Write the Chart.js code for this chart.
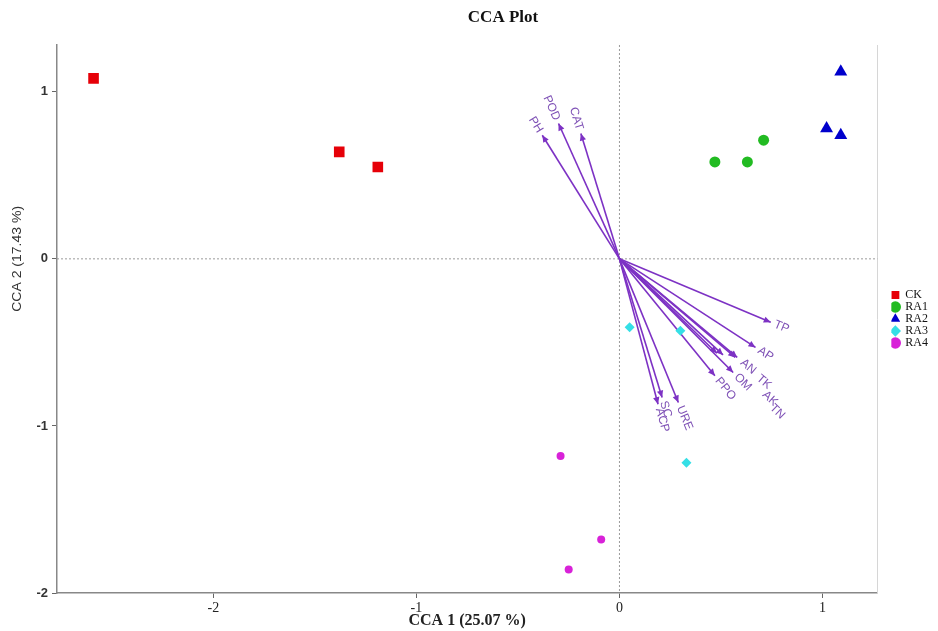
<!DOCTYPE html>
<html>
<head>
<meta charset="utf-8">
<script src="https://cdn.jsdelivr.net/npm/chart.js@4/dist/chart.umd.min.js"></script>
<style>
  body { margin: 0; background: #fff; }
  #wrap { width: 938px; height: 631px; }
</style>
</head>
<body>
<div id="wrap"><canvas id="ccaChart" width="938" height="631"></canvas></div>
<script>
// grupos de amostras (sites) e seus escores
const groups = ['CK', 'RA1', 'RA2', 'RA3', 'RA4'];
const ckX = [-2.59, -1.38, -1.19];
const ckY = [1.08, 0.64, 0.55];
const ra1X = [0.47, 0.63, 0.71];
const ra1Y = [0.58, 0.58, 0.71];
const ra2X = [1.09, 1.02, 1.09];
const ra2Y = [1.12, 0.78, 0.74];
const ra3X = [0.05, 0.30, 0.33];
const ra3Y = [-0.41, -0.43, -1.22];
const ra4X = [-0.29, -0.09, -0.25];
const ra4Y = [-1.18, -1.68, -1.86];

// variáveis ambientais (setas)
const envNames = ['PH', 'POD', 'CAT', 'TP', 'AP', 'AN', 'TK', 'AK', 'TN', 'OM', 'PPO', 'SC', 'ACP', 'URE'];
const envX = [-0.38, -0.30, -0.19, 0.745, 0.67, 0.58, 0.57, 0.51, 0.48, 0.56, 0.47, 0.21, 0.19, 0.29];
const envY = [0.74, 0.81, 0.75, -0.38, -0.53, -0.59, -0.59, -0.575, -0.565, -0.68, -0.70, -0.83, -0.87, -0.86];

// rótulos dos eixos
const xTicks = [-2, -1, 0, 1];
const yTicks = [-2, -1, 0, 1];

const PURPLE = '#7d32c4';
const SERIF = '"Liberation Serif", "Times New Roman", serif';

function pts(xs, ys) {
    return xs.map((x, i) => ({ x: x, y: ys[i] }));
}

const groupData = [pts(ckX, ckY), pts(ra1X, ra1Y), pts(ra2X, ra2Y), pts(ra3X, ra3Y), pts(ra4X, ra4Y)];
const groupColors = ['#e60008', '#22bb22', '#0000cc', '#35dfe6', '#d822d8'];
const groupStyles = ['rect', 'circle', 'triangle', 'rectRot', 'circle'];
const groupRadius = [7.5, 5.5, 7.5, 5, 4];

const datasets = groups.map((g, i) => ({
    label: g,
    data: groupData[i],
    backgroundColor: groupColors[i],
    borderColor: groupColors[i],
    borderWidth: 0,
    pointStyle: groupStyles[i],
    pointRadius: groupRadius[i],
    pointHoverRadius: groupRadius[i]
}));

envNames.forEach((n, i) => {
    datasets.push({
        label: n,
        data: [{ x: 0, y: 0 }, { x: envX[i], y: envY[i] }],
        showLine: true,
        borderColor: PURPLE,
        borderWidth: 1.6,
        pointRadius: 0,
        pointHoverRadius: 0
    });
});

// setas, linhas do zero, títulos
const ccaExtras = {
    id: 'ccaExtras',
    beforeDatasetsDraw(chart) {
        const { ctx, chartArea, scales } = chart;
        const x0 = scales.x.getPixelForValue(0);
        const y0 = scales.y.getPixelForValue(0);
        ctx.save();
        ctx.strokeStyle = '#9a9a9a';
        ctx.lineWidth = 1;
        ctx.setLineDash([2, 2]);
        ctx.beginPath();
        ctx.moveTo(x0, chartArea.top);
        ctx.lineTo(x0, chartArea.bottom);
        ctx.moveTo(chartArea.left, y0);
        ctx.lineTo(chartArea.right, y0);
        ctx.stroke();
        ctx.restore();
    },
    afterDatasetsDraw(chart, args, opts) {
        const { ctx, scales } = chart;
        const x0 = scales.x.getPixelForValue(0);
        const y0 = scales.y.getPixelForValue(0);
        ctx.save();
        ctx.fillStyle = PURPLE;
        envNames.forEach((n, i) => {
            const tx = scales.x.getPixelForValue(envX[i]);
            const ty = scales.y.getPixelForValue(envY[i]);
            const a = Math.atan2(ty - y0, tx - x0);
            // ponta da seta
            ctx.save();
            ctx.translate(tx, ty);
            ctx.rotate(a);
            ctx.beginPath();
            ctx.moveTo(0, 0);
            ctx.lineTo(-7, -3.2);
            ctx.lineTo(-7, 3.2);
            ctx.closePath();
            ctx.fill();
            ctx.restore();
            // rótulo
            const gap = 4 + (opts.shift[n] || 0);
            const lx = tx + Math.cos(a) * gap;
            const ly = ty + Math.sin(a) * gap;
            ctx.save();
            ctx.translate(lx, ly);
            const left = Math.cos(a) < 0;
            ctx.rotate(left ? a + Math.PI : a);
            ctx.textAlign = left ? 'right' : 'left';
            ctx.textBaseline = 'middle';
            ctx.font = '12px "Liberation Sans", Arial, sans-serif';
            ctx.fillStyle = '#7f52b6';
            ctx.fillText(n, 0, 0);
            ctx.restore();
        });
        ctx.restore();

        // título do gráfico
        ctx.save();
        ctx.textAlign = 'center';
        ctx.textBaseline = 'middle';
        ctx.font = 'bold 17px ' + SERIF;
        ctx.fillStyle = '#111';
        ctx.fillText(opts.title, 503, 18);
        ctx.restore();

        // título do eixo Y (fonte estreita)
        ctx.save();
        ctx.translate(18, scales.y.getPixelForValue(0));
        ctx.rotate(-Math.PI / 2);
        ctx.scale(1, 0.85);
        ctx.textAlign = 'center';
        ctx.textBaseline = 'middle';
        ctx.font = '14px "Liberation Sans Narrow", "Liberation Sans", sans-serif';
        ctx.fillStyle = '#333';
        ctx.fillText(opts.yTitle, 0, 0);
        ctx.restore();
    }
};

const ctx = document.getElementById('ccaChart').getContext('2d');
new Chart(ctx, {
    type: 'scatter',
    data: { datasets: datasets },
    options: {
        responsive: false,
        animation: false,
        layout: { padding: { left: 0, right: 0, top: 45, bottom: 0 } },
        plugins: {
            legend: {
                position: 'right',
                fullSize: false,
                labels: {
                    usePointStyle: true,
                    boxWidth: 8,
                    boxHeight: 8,
                    padding: 0,
                    color: '#111',
                    font: { family: SERIF, size: 12 },
                    filter: (item) => item.datasetIndex < groups.length
                }
            },
            tooltip: { enabled: false },
            ccaExtras: {
                title: 'CCA Plot',
                yTitle: 'CCA 2 (17.43 %)',
                shift: { AN: 2, TK: 26, AK: 52, TN: 72 }
            }
        },
        scales: {
            x: {
                type: 'linear',
                min: -2.77,
                max: 1.27,
                afterBuildTicks: (s) => { s.ticks = xTicks.map(v => ({ value: v })); },
                afterFit: (s) => { s.height = 38; },
                ticks: {
                    color: '#222',
                    padding: 2,
                    font: { family: SERIF, size: 14 }
                },
                grid: { drawOnChartArea: false, tickLength: 5, tickColor: '#666' },
                border: { color: '#888', width: 1.5 },
                title: {
                    display: true,
                    text: 'CCA 1 (25.07 %)',
                    color: '#222',
                    font: { family: SERIF, size: 16, weight: 'bold' },
                    padding: { top: 0, bottom: 1 }
                }
            },
            y: {
                type: 'linear',
                min: -2,
                max: 1.28,
                afterBuildTicks: (s) => { s.ticks = yTicks.map(v => ({ value: v })); },
                afterFit: (s) => { s.width = 57; },
                ticks: {
                    color: '#333',
                    padding: 4,
                    font: { family: '"Liberation Sans", Arial, sans-serif', size: 13, weight: 'bold' }
                },
                grid: { drawOnChartArea: false, tickLength: 5, tickColor: '#666' },
                border: { color: '#888', width: 1.5 }
            },
            yRight: {
                type: 'linear',
                position: 'right',
                min: -2,
                max: 1.28,
                afterFit: (s) => { s.width = 14; },
                ticks: { display: false },
                grid: { display: false, drawTicks: false },
                border: { color: '#d6d6d6', width: 1 }
            }
        }
    },
    plugins: [ccaExtras]
});
</script>
</body>
</html>
